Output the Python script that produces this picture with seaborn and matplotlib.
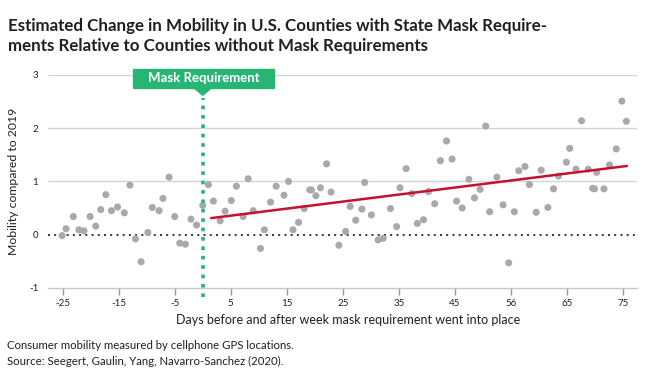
import matplotlib
matplotlib.use("Agg")
import matplotlib.pyplot as plt
import matplotlib.patches as mpatches
import pandas as pd
import seaborn as sns

# valores
days = [-25.1, -24.4, -23.1, -22.1, -21.2, -20.1, -19.1, -18.2, -17.3, -16.3,
        -15.2, -14.0, -13.0, -12.0, -11.0, -9.8, -9.0, -7.8, -7.1, -6.0,
        -5.0, -4.1, -3.1, -2.1, -1.1,
        0.0, 1.0, 1.9, 3.1, 4.0, 5.1, 6.0, 7.2, 8.1, 9.0,
        10.3, 11.0, 12.1, 13.1, 14.5, 15.3, 16.1, 17.1, 18.1, 19.1,
        19.4, 20.2, 21.0, 22.1, 22.9, 24.3, 25.5, 26.3, 27.3, 28.4,
        28.9, 30.1, 31.3, 32.2, 33.5, 34.6, 35.2, 36.3, 37.3, 38.3,
        39.4, 40.3, 41.4, 42.4, 43.5, 44.5, 45.3, 46.3, 47.5, 48.5,
        49.5, 50.5, 51.2, 52.5, 53.6, 54.6, 55.6, 56.4, 57.5, 58.3,
        59.5, 60.4, 61.6, 62.6, 63.5, 64.9, 65.5, 66.6, 67.6, 68.8,
        69.6, 69.9, 70.3, 71.6, 72.6, 73.8, 74.8, 75.6]
mobility = [-0.02, 0.11, 0.34, 0.09, 0.07, 0.34, 0.16, 0.47, 0.75, 0.45,
            0.52, 0.41, 0.93, -0.08, -0.51, 0.04, 0.51, 0.45, 0.68, 1.08,
            0.34, -0.16, -0.18, 0.29, 0.18,
            0.55, 0.94, 0.63, 0.26, 0.44, 0.64, 0.91, 0.34, 1.05, 0.45,
            -0.26, 0.09, 0.61, 0.91, 0.74, 1.00, 0.09, 0.23, 0.49, 0.84,
            0.84, 0.73, 0.88, 1.33, 0.80, -0.20, 0.06, 0.53, 0.27, 0.48,
            0.98, 0.37, -0.10, -0.07, 0.49, 0.15, 0.88, 1.24, 0.77, 0.21,
            0.28, 0.81, 0.58, 1.39, 1.76, 1.42, 0.63, 0.50, 1.04, 0.69,
            0.85, 2.04, 0.43, 1.08, 0.56, -0.53, 0.43, 1.20, 1.28, 0.94,
            0.42, 1.21, 0.51, 0.86, 1.10, 1.36, 1.62, 1.23, 2.14, 1.23,
            0.87, 0.86, 1.17, 0.86, 1.31, 1.61, 2.51, 2.13]
trend_days = [1.5, 75.7]
trend_values = [0.31, 1.29]
mask_day = 0
tick_positions = [-25, -15, -5, 5, 15, 25, 35, 45, 55, 65, 75]
tick_labels = ["-25", "-15", "-5", "5", "15", "25", "35", "45", "56", "65", "75"]

df = pd.DataFrame({"day": days, "mobility": mobility})
df_trend = pd.DataFrame({"day": trend_days, "mobility": trend_values})

sns.set_theme(style="white")
plt.rcParams["font.family"] = ["Lato", "DejaVu Sans"]

green = "#27b574"
text_color = "#231f20"

fig = plt.figure(figsize=(6.5, 3.78), dpi=100)
ax = fig.add_axes([0.074, 0.2386, 0.906, 0.563])

for y in [1, 2, 3]:
    ax.axhline(y, color="#d4d4d4", lw=1, zorder=0)
ax.axhline(0, color="#333333", lw=1.4, ls=(0, (1, 2.2)), zorder=1)

sns.scatterplot(data=df, x="day", y="mobility", color="#a7a9ac", s=26,
                edgecolor="none", ax=ax, zorder=3)
sns.lineplot(data=df_trend, x="day", y="mobility", color="#c8102e", lw=1.8,
             ax=ax, zorder=4)

# linha da exigência de máscara
ax.plot([mask_day, mask_day], [-1.17, 2.57], color=green, lw=2.6,
        ls=(0, (1, 1.6)), clip_on=False, zorder=5)
ax.add_patch(mpatches.Rectangle((mask_day - 12.36, 2.76), 25.0, 0.36,
                                color=green, clip_on=False, zorder=6))
ax.add_patch(mpatches.Polygon([[mask_day - 1.7, 2.77], [mask_day + 1.7, 2.77],
                               [mask_day, 2.62]], closed=True, color=green,
                              clip_on=False, zorder=6))
ax.text(mask_day + 0.14, 2.94, "Mask Requirement", color="white",
        fontsize=9.5, fontweight="bold", ha="center", va="center", zorder=7)

ax.set_xlim(-27.6, 77.5)
ax.set_ylim(-1, 3)
ax.set_xticks(tick_positions)
ax.set_xticklabels(tick_labels)
ax.set_yticks([-1, 0, 1, 2, 3])
ax.set_yticklabels(["-1", "0", "1", "2", "3"])
ax.tick_params(axis="x", length=5, width=1, color="#9a9a9a", pad=3,
               labelsize=7, labelcolor=text_color)
ax.tick_params(axis="y", length=0, pad=7, labelsize=7, labelcolor=text_color)
ax.tick_params(axis="x", bottom=True, direction="out")

for side in ["top", "right", "left"]:
    ax.spines[side].set_visible(False)
ax.spines["bottom"].set_color("#c8c8c8")
ax.spines["bottom"].set_linewidth(1)

ax.set_xlabel("Days before and after week mask requirement went into place",
              fontsize=9, color=text_color, labelpad=5)
ax.xaxis.set_label_coords(0.51, -0.125)
ax.set_ylabel("Mobility compared to 2019", fontsize=8.8, color=text_color)
ax.yaxis.set_label_coords(-0.05, 0.5)

fig.text(0.012, 0.953,
         "Estimated Change in Mobility in U.S. Counties with State Mask Require-\n"
         "ments Relative to Counties without Mask Requirements",
         fontsize=12.2, fontweight="bold", color=text_color, va="top",
         linespacing=1.3)
fig.text(0.011, 0.085, "Consumer mobility measured by cellphone GPS locations.",
         fontsize=8.2, color=text_color, va="center")
fig.text(0.011, 0.043, "Source: Seegert, Gaulin, Yang, Navarro-Sanchez (2020).",
         fontsize=8.2, color=text_color, va="center")

fig.savefig("out.png", dpi=100)
plt.close(fig)
